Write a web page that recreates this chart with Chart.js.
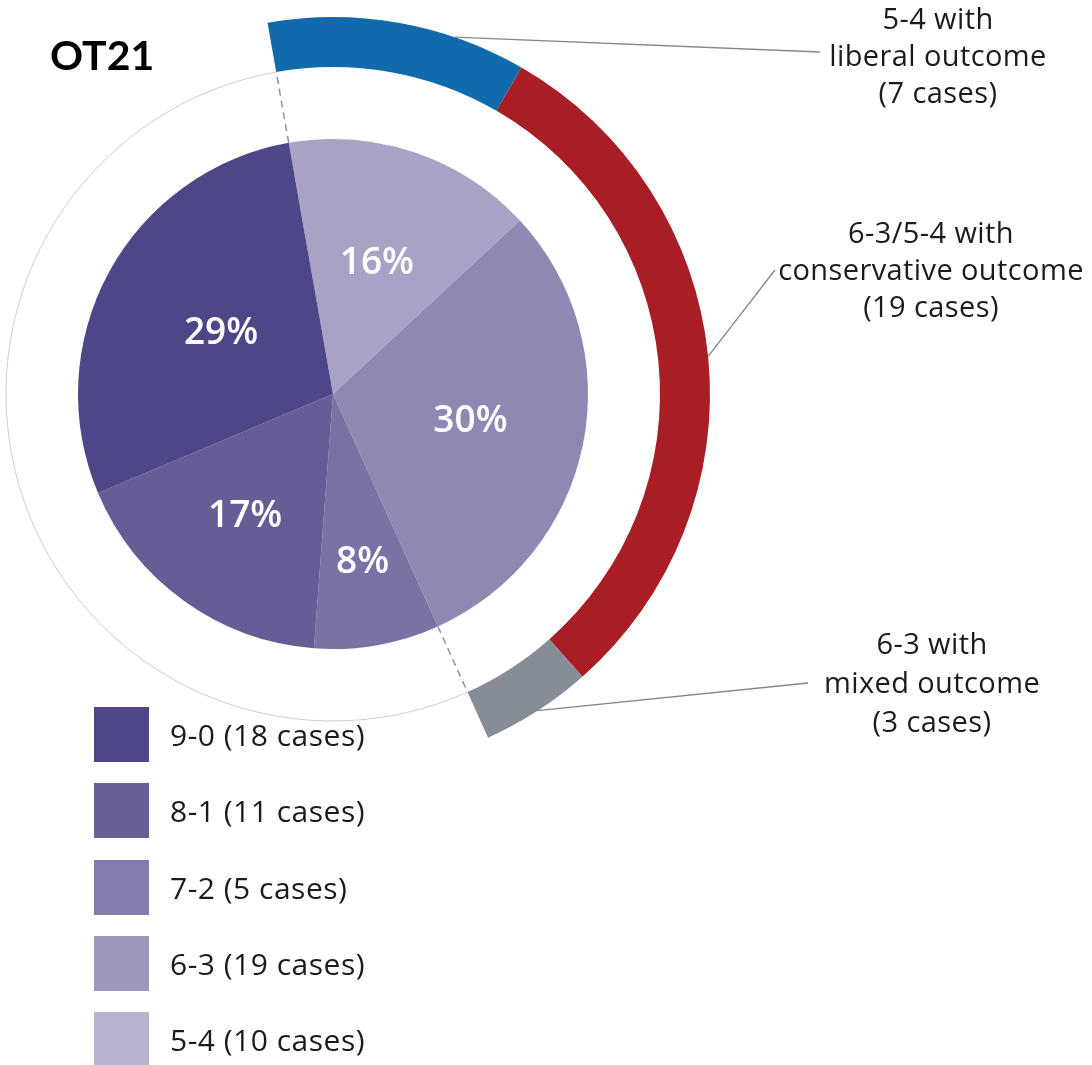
<!DOCTYPE html>
<html>
<head>
<meta charset="utf-8">
<title>OT21</title>
<script src="https://cdn.jsdelivr.net/npm/chart.js@4.4.1/dist/chart.umd.min.js"></script>
<style>
  html,body{margin:0;padding:0;background:#fff;overflow:hidden}
  body{width:1092px;height:1065px;position:relative;font-family:'Open Sans',Lato,sans-serif;color:#1b1b1b}
  #wrap{position:absolute;left:-44px;top:0;width:1136px;height:1065px}
  #title{position:absolute;left:50px;top:34px;font:bold 41px/42px Lato,sans-serif;color:#000}
  .callout{position:absolute;width:380px;margin-left:-190px;text-align:center;font-size:29px;letter-spacing:0.4px;line-height:37px;white-space:nowrap}
  #legend{position:absolute;left:94px;top:707px}
  #legend .item{display:flex;align-items:center;height:55px;margin-bottom:21.25px;font-size:30px;letter-spacing:0.5px}
  #legend .sw{width:55px;height:55px;margin-right:21px}
</style>
</head>
<body>
<div id="wrap"><canvas id="chart" width="1136" height="1065"></canvas></div>
<div id="title">OT21</div>
<div id="callouts"></div>
<div id="legend"></div>
<script>
/* ===== Dados ===== */
// votação (ordem da legenda)
const splitLabels = ['9-0', '8-1', '7-2', '6-3', '5-4'];
const splitCases  = [18, 11, 5, 19, 10];
const splitColors = ['#4e4787', '#665c96', '#7a71a5', '#9088b3', '#a9a2c5'];
const legendColors= ['#4e4787', '#685f96', '#837ba9', '#9c97bb', '#b7b3cf'];

// anel externo: resultados dos casos 6-3 e 5-4
const outcomeLines  = [['5-4 with','liberal outcome'], ['6-3/5-4 with','conservative outcome'], ['6-3 with','mixed outcome']];
const outcomeCases  = [7, 19, 3];
const outcomeColors = ['#116aac', '#a81e24', '#868d96'];

/* ===== Layout ===== */
const OFFSET_X = 44;              // canvas começa em x = -44 na página
const RING_W = 50, GAP_W = 72, PIE_W = 255;
const labelRadius = [0.54, 0.55, 0.67, 0.59, 0.5];   // por fatia, na ordem do desenho
const callouts = [                // centro do texto, fim da linha guia, ponto de saída no arco
  {cx: 938, top: -1,  lx: 820, ly: 52,  frac: 0.72},
  {cx: 931, top: 213, lx: 775, ly: 270, frac: 0.5},
  {cx: 932, top: 623, lx: 808, ly: 683, frac: 0.5},
];

const total = splitCases.reduce((s, v) => s + v, 0);
const rest  = total - outcomeCases.reduce((s, v) => s + v, 0);

// o gráfico desenha no sentido horário a partir de -10°: 5-4, 6-3, 7-2, 8-1, 9-0
const pieData   = [...splitCases].reverse();
const pieColors = [...splitColors].reverse();

/* ===== Plugin de anotações ===== */
const overlay = {
  id: 'overlay',
  afterDatasetsDraw(chart){
    const ctx = chart.ctx;
    const ring = chart.getDatasetMeta(0).data;
    const pie  = chart.getDatasetMeta(2).data;
    const rem  = ring[ring.length - 1];
    const cx = rem.x, cy = rem.y;
    const pieR = pie[0].outerRadius;
    ctx.save();

    // círculo fino no lado vazio
    ctx.strokeStyle = '#cfcfd3';
    ctx.lineWidth = 1;
    ctx.beginPath();
    ctx.arc(cx, cy, rem.innerRadius, rem.startAngle, rem.endAngle);
    ctx.stroke();

    // linhas tracejadas nos limites do anel
    ctx.strokeStyle = '#8c919b';
    ctx.lineWidth = 1.5;
    ctx.setLineDash([7, 5]);
    [ring[0].startAngle, rem.startAngle].forEach(a => {
      ctx.beginPath();
      ctx.moveTo(cx + Math.cos(a) * pieR, cy + Math.sin(a) * pieR);
      ctx.lineTo(cx + Math.cos(a) * rem.innerRadius, cy + Math.sin(a) * rem.innerRadius);
      ctx.stroke();
    });
    ctx.setLineDash([]);

    // linhas guia
    ctx.strokeStyle = '#7d8792';
    ctx.lineWidth = 1.3;
    callouts.forEach((c, i) => {
      const arc = ring[i];
      const a = arc.startAngle + (arc.endAngle - arc.startAngle) * c.frac;
      ctx.beginPath();
      ctx.moveTo(cx + Math.cos(a) * arc.outerRadius, cy + Math.sin(a) * arc.outerRadius);
      ctx.lineTo(c.lx + OFFSET_X, c.ly);
      ctx.stroke();
    });

    // percentuais
    ctx.fillStyle = '#fff';
    ctx.font = '600 37px "Open Sans", sans-serif';
    ctx.textAlign = 'center';
    ctx.textBaseline = 'middle';
    pie.forEach((arc, i) => {
      const a = (arc.startAngle + arc.endAngle) / 2;
      const r = arc.outerRadius * labelRadius[i];
      ctx.fillText(Math.round(pieData[i] / total * 100) + '%', cx + Math.cos(a) * r, cy + Math.sin(a) * r);
    });
    ctx.restore();
  }
};

/* ===== Gráfico ===== */
new Chart(document.getElementById('chart'), {
  type: 'doughnut',
  data: {
    datasets: [
      { data: [...outcomeCases, rest], backgroundColor: [...outcomeColors, 'rgba(0,0,0,0)'], weight: RING_W },
      { data: [total], backgroundColor: ['rgba(0,0,0,0)'], weight: GAP_W },
      { data: pieData, backgroundColor: pieColors, weight: PIE_W },
    ]
  },
  options: {
    responsive: false,
    animation: false,
    events: [],
    cutout: 0,
    rotation: -10,
    borderWidth: 0,
    hoverOffset: 0,
    offset: 0,
    layout: { padding: { left: 0, top: 17, right: 1136 - 754, bottom: 1065 - 17 - 754 } },
    plugins: { legend: { display: false }, tooltip: { enabled: false } }
  },
  plugins: [overlay]
});

/* ===== Textos ===== */
const box = document.getElementById('callouts');
callouts.forEach((c, i) => {
  const d = document.createElement('div');
  d.className = 'callout';
  d.style.left = c.cx + 'px';
  d.style.top = c.top + 'px';
  if (i === 2) d.style.lineHeight = '39px';
  d.innerHTML = [...outcomeLines[i], `(${outcomeCases[i]} cases)`].join('<br>');
  box.appendChild(d);
});

const legend = document.getElementById('legend');
splitLabels.forEach((l, i) => {
  const it = document.createElement('div');
  it.className = 'item';
  it.innerHTML = `<span class="sw" style="background:${legendColors[i]}"></span><span>${l} (${splitCases[i]} cases)</span>`;
  legend.appendChild(it);
});
</script>
</body>
</html>
